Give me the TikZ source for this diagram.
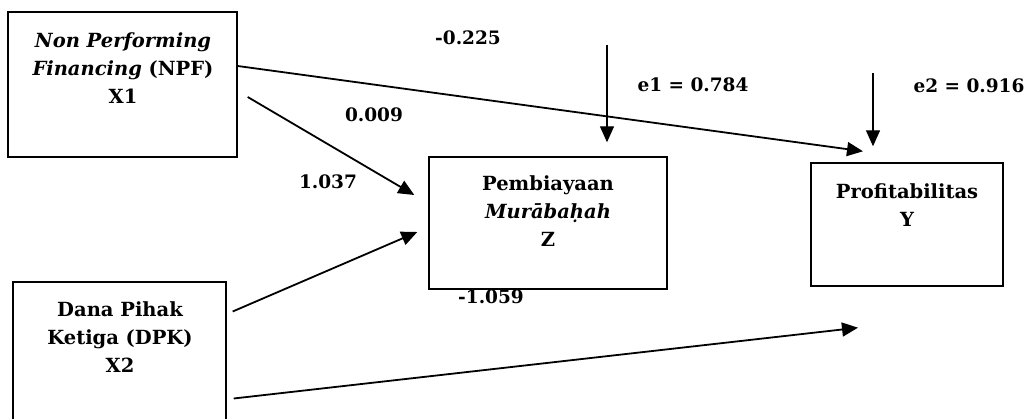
\documentclass[tikz,border=0pt]{standalone}
\usepackage{fontspec}
\setmainfont{DejaVu Serif}
\usetikzlibrary{arrows.meta,positioning}

\begin{document}
\begin{tikzpicture}[x=1pt,y=-1pt,
    varbox/.style={draw,line width=1.4pt,inner sep=0pt},
    vartext/.style={align=center,font=\fontsize{19.5}{28}\selectfont\bfseries,inner sep=0pt},
    coef/.style={font=\fontsize{18.5}{22}\selectfont\bfseries,inner sep=0pt},
    path/.style={line width=1.8pt,-{Triangle[length=16pt,width=14pt]}},
    errline/.style={line width=1.3pt,-{Triangle[length=16pt,width=14pt]}}]
    \useasboundingbox (0,0) rectangle (1031,419);
    \node[varbox,minimum width=229pt,minimum height=145pt] (npf) at (122.5,84.5) {};
    \node[varbox,minimum width=238pt,minimum height=132pt] (murabahah) at (548,223) {};
    \node[varbox,minimum width=192pt,minimum height=123pt] (profit) at (907,224.5) {};
    \node[varbox,minimum width=213pt,minimum height=146pt] (dpk) at (119.5,355) {};
    \node[vartext] (npftext) at (123,68.5) {\textit{Non Performing}\\\textit{Financing} (NPF)\\X1};
    \node[vartext] (murabahahtext) at (548,211) {Pembiayaan\\\textit{Murābaḥah}\\Z};
    \node[vartext] (profittext) at (907,205) {Profitabilitas\\Y};
    \node[vartext] (dpktext) at (120,337.5) {Dana Pihak\\Ketiga (DPK)\\X2};
    \coordinate (e1) at (607,45);
    \coordinate (e2) at (873,73);
    \draw[path] ([yshift=18.5pt]npf.east) -- ([xshift=-44pt,yshift=11pt]profit.north);
    \draw[path] ([xshift=10pt,yshift=-12.5pt]npf.east) -- ([xshift=-14pt,yshift=28pt]murabahah.west);
    \draw[path] ([xshift=6pt,yshift=43.5pt]dpk.east) -- ([xshift=-11pt,yshift=-9pt]murabahah.west);
    \draw[path] ([xshift=7pt,yshift=-43.5pt]dpk.east) -- ([xshift=-49pt,yshift=-41pt]profit.south);
    \draw[errline] (e1) -- ([xshift=59pt,yshift=14pt]murabahah.north);
    \draw[errline] (e2) -- ([xshift=-34pt,yshift=16pt]profit.north);
    \node[coef] (c1) at (468,38) {-0.225};
    \node[coef] (c2) at (374,115) {0.009};
    \node[coef] (c3) at (328,182) {1.037};
    \node[coef] (c4) at (491,297) {-1.059};
    \node[coef] (c5) at (693,85) {e1 = 0.784};
    \node[coef] (c6) at (969,86) {e2 = 0.916};
\end{tikzpicture}
\end{document}
